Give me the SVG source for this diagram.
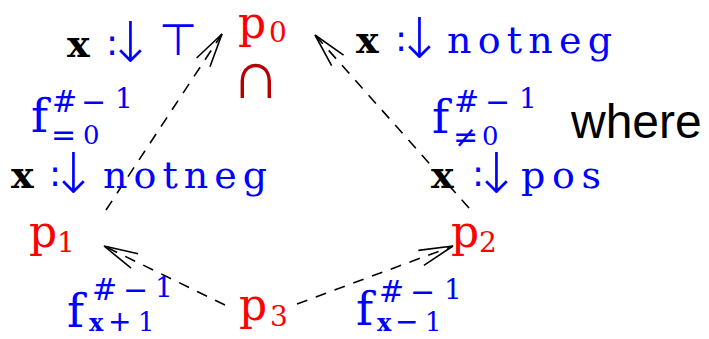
<svg xmlns="http://www.w3.org/2000/svg" width="709" height="339" viewBox="0 0 709 339">
<style>
.bg{fill:#fff}
.m{font-family:"DejaVu Serif",serif;fill:#00f}
.up{font-family:"DejaVu Serif",serif;fill:#00f}
.sy{font-family:"DejaVu Sans",sans-serif;fill:#00f}
.ar{font-family:"DejaVu Sans",sans-serif;font-weight:200;fill:#00f}
.tt{font-family:"DejaVu Serif",serif;font-weight:bold;fill:#000}
.ttb{font-family:"DejaVu Serif",serif;font-weight:bold;fill:#00f}
.p{font-family:"DejaVu Serif",serif;fill:#f00}
.d{font-family:"DejaVu Serif",serif;fill:#f00}
.edge{fill:none;stroke:#000;stroke-width:1.6;stroke-dasharray:11 9}
.head{fill:none;stroke:#000;stroke-width:1.6}
</style>
<defs>
<marker id="ah" markerUnits="userSpaceOnUse" markerWidth="40" markerHeight="24" refX="0" refY="0" viewBox="-36 -12 40 24" orient="auto" overflow="visible">
<path class="head" d="M-34,-8 L0,0 L-34,8"/>
</marker>
</defs>
<rect class="bg" width="709" height="339"/>
<g id="connectors">
<line class="edge" x1="106" y1="210" x2="222" y2="34" marker-end="url(#ah)"/>
<line class="edge" x1="469" y1="208" x2="315" y2="35" marker-end="url(#ah)"/>
<line class="edge" x1="225" y1="305" x2="104" y2="246" marker-end="url(#ah)"/>
<line class="edge" x1="297" y1="304" x2="453" y2="246" marker-end="url(#ah)"/>
</g>
<g id="node-p0">
<text class="p" x="238" y="38" font-size="44">p</text>
<text class="d" x="269" y="42" font-size="28">0</text>
<text x="256" y="98" font-size="68" text-anchor="middle" style="font-family:'DejaVu Sans',sans-serif;font-weight:200;fill:#b30000">∩</text>
</g>
<g id="node-p1">
<text class="p" x="29" y="247" font-size="44">p</text>
<text class="d" x="57" y="252" font-size="28">1</text>
</g>
<g id="node-p2">
<text class="p" x="451" y="247" font-size="44">p</text>
<text class="d" x="479" y="252" font-size="28">2</text>
</g>
<g id="node-p3">
<text class="p" x="239" y="320" font-size="44">p</text>
<text class="d" x="270" y="326" font-size="28">3</text>
</g>
<g id="label-top-left">
<text class="tt" x="67" y="57" font-size="38">x</text>
<text class="sy" x="106" y="55" font-size="36">:</text>
<text class="ar" x="107" y="62" font-size="56">↓</text>
<text class="sy" x="178" y="55" font-size="44" text-anchor="middle">⊤</text>
</g>
<g id="label-f-eq0">
<text class="up" x="31" y="132" font-size="46">f</text>
<text class="sy" x="52" y="112" font-size="30">#</text>
<text class="sy" x="81" y="112" font-size="30">−</text>
<text class="up" x="115" y="108" font-size="28">1</text>
<text class="sy" x="51" y="145" font-size="30">=</text>
<text class="up" x="83" y="144" font-size="26">0</text>
</g>
<g id="label-left">
<text class="tt" x="11" y="188" font-size="38">x</text>
<text class="sy" x="49" y="186" font-size="36">:</text>
<text class="ar" x="50" y="193" font-size="56">↓</text>
<text class="m" x="103" y="188" font-size="38" textLength="164" lengthAdjust="spacing">notneg</text>
</g>
<g id="label-top-right">
<text class="tt" x="356" y="53" font-size="38">x</text>
<text class="sy" x="395" y="51" font-size="36">:</text>
<text class="ar" x="396" y="58" font-size="56">↓</text>
<text class="m" x="447" y="53" font-size="38" textLength="165" lengthAdjust="spacing">notneg</text>
</g>
<g id="label-f-ne0">
<text class="up" x="432" y="133" font-size="46">f</text>
<text class="sy" x="454" y="112" font-size="30">#</text>
<text class="sy" x="485" y="112" font-size="30">−</text>
<text class="up" x="519" y="108" font-size="28">1</text>
<text class="sy" x="453" y="147" font-size="30">≠</text>
<text class="up" x="482" y="145" font-size="26">0</text>
</g>
<g id="label-right">
<text class="tt" x="431" y="188" font-size="38">x</text>
<text class="sy" x="472" y="186" font-size="36">:</text>
<text class="ar" x="473" y="193" font-size="56">↓</text>
<text class="m" x="521" y="188" font-size="38" textLength="80" lengthAdjust="spacing">pos</text>
</g>
<g id="label-f-xp1">
<text class="up" x="67" y="327" font-size="46">f</text>
<text class="sy" x="92" y="300" font-size="30">#</text>
<text class="sy" x="123" y="300" font-size="30">−</text>
<text class="up" x="155" y="297" font-size="28">1</text>
<text class="ttb" x="89" y="331" font-size="24">x</text>
<text class="sy" x="108" y="331" font-size="28">+</text>
<text class="up" x="138" y="331" font-size="26">1</text>
</g>
<g id="label-f-xm1">
<text class="up" x="356" y="325" font-size="46">f</text>
<text class="sy" x="379" y="302" font-size="30">#</text>
<text class="sy" x="410" y="302" font-size="30">−</text>
<text class="up" x="444" y="299" font-size="28">1</text>
<text class="ttb" x="377" y="331" font-size="24">x</text>
<text class="sy" x="395" y="331" font-size="28">−</text>
<text class="up" x="425" y="331" font-size="26">1</text>
</g>
<g id="where">
<text x="571" y="138" font-size="48" style="font-family:'Liberation Sans',Arial,sans-serif;fill:#000">where</text>
</g>
</svg>
